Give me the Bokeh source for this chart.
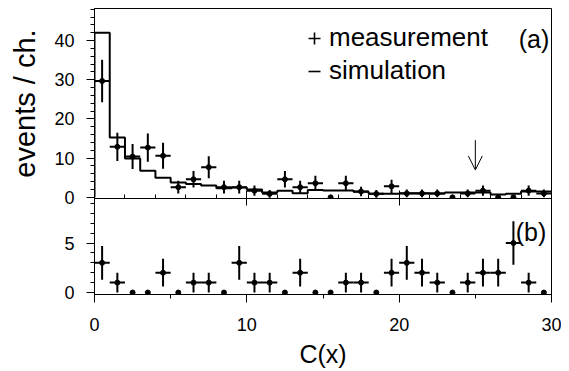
import numpy as np
from bokeh.plotting import figure
from bokeh.layouts import column
from bokeh.models import (Range1d, SingleIntervalTicker, Legend, LegendItem,
                          Label, Arrow, OpenHead)
from bokeh.embed import file_html
from bokeh.resources import INLINE

# ---------------- data ----------------
bin_edges = [0, 1, 2, 3, 4, 5, 6, 7, 8, 9, 10, 11, 12, 13, 14, 15,
             16, 17, 18, 19, 20, 21, 22, 23, 24, 25, 26, 27, 28, 29, 30]
bin_centers = [0.5, 1.5, 2.5, 3.5, 4.5, 5.5, 6.5, 7.5, 8.5, 9.5,
               10.5, 11.5, 12.5, 13.5, 14.5, 15.5, 16.5, 17.5, 18.5, 19.5,
               20.5, 21.5, 22.5, 23.5, 24.5, 25.5, 26.5, 27.5, 28.5, 29.5]

# panel (a): measurement and simulation
meas_top = [29.7, 12.9, 10.4, 12.7, 10.6, 2.6, 4.6, 7.7, 2.6, 2.6,
            1.7, 0.9, 4.6, 2.6, 3.6, 0.0, 3.6, 1.5, 0.9, 2.8,
            1.0, 1.0, 1.0, 0.0, 1.0, 1.7, 0.0, 0.0, 1.7, 1.0]
err_top = [5.4, 3.6, 3.2, 3.6, 3.3, 1.6, 2.1, 2.8, 1.6, 1.6,
           1.3, 1.0, 2.1, 1.6, 1.9, 0.0, 1.9, 1.2, 1.0, 1.7,
           1.0, 1.0, 1.0, 0.0, 1.0, 1.3, 0.0, 0.0, 1.3, 1.0]
sim_top = [42.0, 15.3, 9.9, 6.8, 5.0, 3.8, 3.4, 3.0, 2.3, 2.5,
           2.0, 1.2, 1.65, 1.05, 1.9, 1.75, 1.75, 1.4, 0.9, 0.9,
           1.05, 1.05, 1.0, 1.2, 1.2, 1.2, 0.7, 0.9, 1.5, 1.5]

# panel (b)
meas_bot = [3, 1, 0, 0, 2, 0, 1, 1, 0, 3, 1, 1, 0, 2, 0,
            0, 1, 1, 0, 2, 3, 2, 1, 0, 1, 2, 2, 5, 1, 0]
err_bot = [1.7, 1.0, 0, 0, 1.4, 0, 1.0, 1.0, 0, 1.7, 1.0, 1.0, 0, 1.4, 0,
           0, 1.0, 1.0, 0, 1.4, 1.7, 1.4, 1.0, 0, 1.0, 1.4, 1.4, 2.2, 1.0, 0]

arrow_x = 25.0
arrow_y_from = 14.6
arrow_y_to = 7.0

FONT = "Liberation Sans"
OVERLAP = 24  # bottom border of the top panel, overlapped by the lower panel


def style_left_axis(ax, interval, label=None):
    ax.ticker = SingleIntervalTicker(interval=interval, num_minor_ticks=5)
    ax.major_tick_out = 8
    ax.major_tick_in = 0
    ax.minor_tick_out = 4
    ax.minor_tick_in = 0
    ax.major_tick_line_color = "black"
    ax.minor_tick_line_color = "black"
    ax.axis_line_color = "black"
    ax.major_label_text_font = FONT
    ax.major_label_text_font_size = "18px"
    ax.major_label_text_color = "black"
    ax.major_label_standoff = 12
    if label:
        ax.axis_label = label
        ax.axis_label_text_font = FONT
        ax.axis_label_text_font_size = "29px"
        ax.axis_label_text_font_style = "normal"
        ax.axis_label_text_color = "black"
        ax.axis_label_standoff = 10


def add_points(p, centers, edges, y, e):
    c = np.array(centers, dtype=float)
    ed = np.array(edges, dtype=float)
    y = np.array(y, dtype=float)
    e = np.array(e, dtype=float)
    nz = y > 0
    left = ed[:-1][nz]
    right = ed[1:][nz]
    p.segment(x0=left, y0=y[nz], x1=right, y1=y[nz], line_color="black", line_width=2)
    p.segment(x0=c[nz], y0=y[nz] - e[nz], x1=c[nz], y1=y[nz] + e[nz],
              line_color="black", line_width=2)
    p.scatter(x=c, y=y, marker="circle", size=5, color="black")


x_range = Range1d(0, 30)

# ---------------- top panel ----------------
p1 = figure(frame_width=457, frame_height=190, x_range=x_range,
            y_range=Range1d(-0.3, 48.2), output_backend="svg", toolbar_location=None,
            min_border_left=94, min_border_right=10, min_border_top=8,
            min_border_bottom=OVERLAP,
            background_fill_color="white", border_fill_color="white")
p1.xgrid.visible = False
p1.ygrid.visible = False
p1.outline_line_color = "black"
p1.outline_line_width = 1

style_left_axis(p1.yaxis[0], 10, "events / ch.")
xa = p1.xaxis[0]
xa.ticker = SingleIntervalTicker(interval=10, num_minor_ticks=5)
xa.major_tick_in = 8
xa.major_tick_out = 7
xa.minor_tick_in = 4
xa.minor_tick_out = 0
xa.major_tick_line_color = "black"
xa.minor_tick_line_color = "black"
xa.major_label_text_color = None
xa.major_label_text_font_size = "8px"
xa.major_label_standoff = 0

# simulation histogram as a step outline
ed = np.array(bin_edges, dtype=float)
sim = np.array(sim_top, dtype=float)
step_x = np.concatenate([[ed[0]], ed])
step_y = np.concatenate([[0.0], sim, [sim[-1]]])
p1.step(step_x, step_y, mode="after", line_color="black", line_width=2)

add_points(p1, bin_centers, bin_edges, meas_top, err_top)

p1.add_layout(Arrow(end=OpenHead(size=14, line_width=1, line_color="black"),
                    x_start=arrow_x, y_start=arrow_y_from, x_end=arrow_x, y_end=arrow_y_to,
                    line_width=1, line_color="black"))

# legend (size-0 markers so only the legend glyph is drawn)
r_m = p1.scatter(x=bin_centers[:1], y=meas_top[:1], marker="cross", size=0,
                 line_color="black", line_width=1.6)
r_s = p1.scatter(x=bin_centers[:1], y=sim_top[:1], marker="dash", size=0,
                 line_color="black", line_width=1.6)
legend = Legend(items=[LegendItem(label="measurement", renderers=[r_m]),
                       LegendItem(label="simulation", renderers=[r_s])],
                location=(205, 112), glyph_width=30, glyph_height=30, spacing=2,
                padding=0, margin=0, label_standoff=0, label_height=30,
                border_line_color=None, background_fill_alpha=0,
                label_text_font=FONT, label_text_font_size="26px", label_text_color="black")
p1.add_layout(legend)

p1.add_layout(Label(x=27.85, y=40.3, text="(a)", text_baseline="middle",
                    text_font=FONT, text_font_size="25px", text_color="black"))

# ---------------- bottom panel ----------------
p2 = figure(frame_width=457, frame_height=96, x_range=x_range,
            y_range=Range1d(-0.2, 9.5), output_backend="svg", toolbar_location=None,
            min_border_left=94, min_border_right=10, min_border_top=0, min_border_bottom=0,
            background_fill_alpha=0, border_fill_alpha=0,
            margin=(-OVERLAP, 0, 0, 0))
p2.xgrid.visible = False
p2.ygrid.visible = False
p2.outline_line_color = "black"
p2.outline_line_width = 1

style_left_axis(p2.yaxis[0], 5)
xb = p2.xaxis[0]
xb.ticker = SingleIntervalTicker(interval=10, num_minor_ticks=2)
xb.major_tick_out = 8
xb.major_tick_in = 0
xb.minor_tick_out = 4
xb.minor_tick_in = 0
xb.major_tick_line_color = "black"
xb.minor_tick_line_color = "black"
xb.major_label_text_font = FONT
xb.major_label_text_font_size = "18px"
xb.major_label_text_color = "black"
xb.major_label_standoff = 15
xb.axis_label = "C(x)"
xb.axis_label_text_font = FONT
xb.axis_label_text_font_size = "25px"
xb.axis_label_text_font_style = "normal"
xb.axis_label_text_color = "black"
xb.axis_label_standoff = 6

add_points(p2, bin_centers, bin_edges, meas_bot, err_bot)

p2.add_layout(Label(x=27.65, y=6.07, text="(b)", text_baseline="middle",
                    text_font=FONT, text_font_size="25px", text_color="black"))

layout = column(p1, p2, spacing=0)
open("out.html", "w").write(file_html(layout, INLINE))
